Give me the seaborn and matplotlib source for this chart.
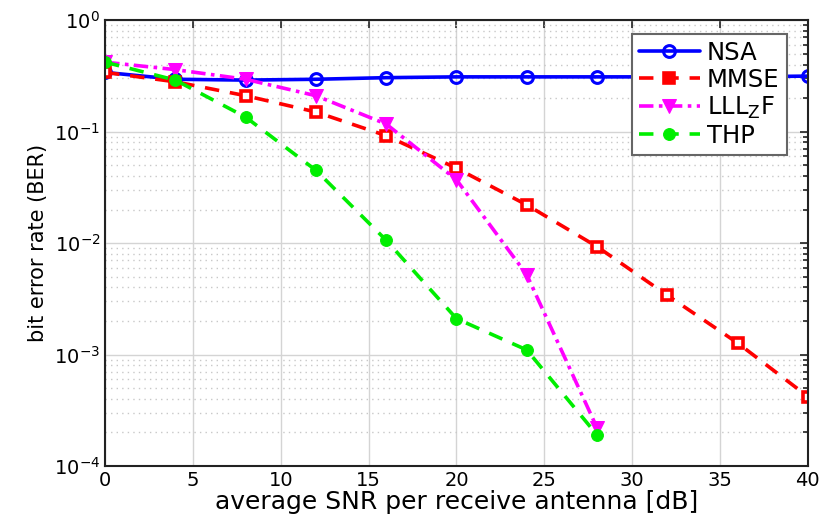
import numpy as np
import pandas as pd
import matplotlib
matplotlib.use("Agg")
import matplotlib.pyplot as plt
import seaborn as sns
from matplotlib.ticker import LogLocator, NullFormatter

snr = [0, 4, 8, 12, 16, 20, 24, 28, 32, 36, 40]
snr_short = [0, 4, 8, 12, 16, 20, 24, 28]
nsa = [0.34, 0.295, 0.29, 0.295, 0.305, 0.31, 0.31, 0.31, 0.31, 0.31, 0.315]
mmse = [0.34, 0.28, 0.21, 0.15, 0.092, 0.047, 0.022, 0.0093, 0.0034, 0.00127, 0.00042]
lll = [0.42, 0.36, 0.295, 0.21, 0.117, 0.037, 0.0052, 0.00022]
thp = [0.42, 0.29, 0.135, 0.045, 0.0106, 0.0021, 0.0011, 0.00019]

sns.set_theme(style="white")
plt.rcParams['font.family'] = ['DejaVu Sans']
plt.rcParams['text.color'] = 'black'
plt.rcParams['axes.labelcolor'] = 'black'

fig = plt.figure(figsize=(8.21, 5.31), dpi=100)
ax = fig.add_axes([0.128, 0.1224, 0.856, 0.8396])

LW = 2.6
sns.lineplot(x=snr, y=nsa, ax=ax, color='#0000ff', lw=LW, linestyle='-', marker='o',
             markersize=8.5, markerfacecolor='none', markeredgecolor='#0000ff', markeredgewidth=2.2, label='NSA')
sns.lineplot(x=snr, y=mmse, ax=ax, color='#ff0000', lw=LW, linestyle=(0, (4, 3)), marker='s',
             markersize=7.5, markerfacecolor='white', markeredgecolor='#ff0000', markeredgewidth=2.6, label='MMSE')
sns.lineplot(x=snr_short, y=lll, ax=ax, color='#ff00ff', lw=LW, linestyle=(0, (4, 1.5, 1, 1.5)), marker='v',
             markersize=10, markerfacecolor='#ff00ff', markeredgecolor='#ff00ff', label='LLL$_\\mathregular{Z}$F')
sns.lineplot(x=snr_short, y=thp, ax=ax, color='#00ee00', lw=LW, linestyle=(0, (4, 3)), marker='o',
             markersize=8.5, markerfacecolor='#00ee00', markeredgecolor='#00ee00', label='THP')

ax.set_yscale('log')
ax.set_xlim(0, 40)
ax.set_ylim(1e-4, 1)
ax.set_xticks(range(0, 41, 5))
ax.yaxis.set_major_locator(LogLocator(base=10, numticks=10))
ax.yaxis.set_minor_locator(LogLocator(base=10, subs=np.arange(2, 10), numticks=20))
ax.yaxis.set_minor_formatter(NullFormatter())

ax.grid(True, which='major', color='#d4d4d4', lw=1, linestyle='-')
ax.grid(True, which='minor', axis='y', color='#c8c8c8', lw=1, linestyle=(0, (1, 3)))
ax.set_axisbelow(True)

for s in ax.spines.values():
    s.set_visible(True)
    s.set_color('#222222')
    s.set_linewidth(1.5)

ax.tick_params(axis='both', which='both', direction='in', top=True, right=True,
               colors='#222222', labelsize=14, labelcolor='black')
ax.tick_params(which='major', length=6, width=1.2)
ax.tick_params(which='minor', length=3.5, width=1.2)

ax.set_xlabel('average SNR per receive antenna [dB]', fontsize=18, labelpad=0, color='black')
ax.set_ylabel('bit error rate (BER)', fontsize=15, labelpad=4, color='black')

leg = ax.legend(loc='upper right', fontsize=17.5, frameon=True, fancybox=False,
                edgecolor='#666666', framealpha=1, handlelength=2.5, handletextpad=0.3,
                borderpad=0.3, labelspacing=0.12, borderaxespad=0,
                bbox_to_anchor=(0.97, 0.97))
leg.get_frame().set_linewidth(1.5)
for t in leg.get_texts():
    t.set_color('black')
for h in leg.legend_handles:
    if h.get_label() == 'MMSE':
        h.set_markerfacecolor('#ff0000')

fig.savefig('out.png', dpi=100)
